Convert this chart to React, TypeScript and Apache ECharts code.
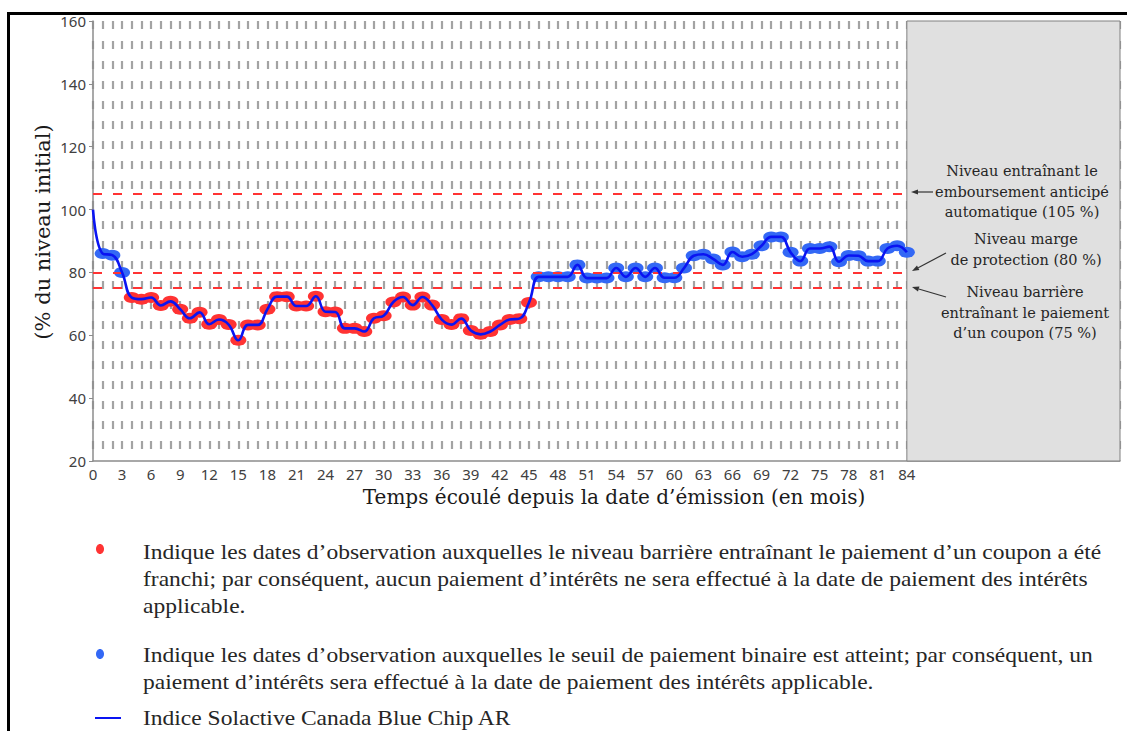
import React, { useEffect, useRef } from 'react';
import * as echarts from 'echarts';

// ---------- data ----------
const months: number[] = [
  0, 1, 2, 3, 4, 5, 6, 7, 8, 9, 10, 11, 12, 13, 14, 15, 16, 17, 18, 19, 20,
  21, 22, 23, 24, 25, 26, 27, 28, 29, 30, 31, 32, 33, 34, 35, 36, 37, 38, 39, 40,
  41, 42, 43, 44, 45, 46, 47, 48, 49, 50, 51, 52, 53, 54, 55, 56, 57, 58, 59, 60,
  61, 62, 63, 64, 65, 66, 67, 68, 69, 70, 71, 72, 73, 74, 75, 76, 77, 78, 79, 80,
  81, 82, 83, 84,
];
const indexLevels: number[] = [
  100, 86, 85.5, 80, 72, 71.5, 72, 69.5, 70.8, 68.3, 65.4, 67.3, 63.5, 65, 63.4, 58.4, 63.3, 63.3, 68.3, 72.3, 72.3,
  69.3, 69.3, 72.4, 67.5, 67.4, 62.2, 62.2, 61.2, 65.4, 66.2, 70.6, 72.2, 69.6, 72.2, 69.6, 65, 63.4, 65.3, 61.5, 60.3,
  61.2, 63.3, 65, 65.3, 70.4, 78.6, 78.6, 78.6, 78.6, 82.4, 78.2, 78.2, 78.2, 81.4, 78.6, 81.4, 78.6, 81.4, 78.3, 78.3,
  81.4, 85.3, 85.8, 84.3, 82.4, 86.5, 85, 85.8, 88.5, 91.3, 91.3, 86.4, 83.6, 87.6, 87.6, 88.2, 83.4, 85.4, 85.3, 83.6,
  83.6, 87.6, 88.5, 86.4,
];
const autocallLevel = 105;
const protectionLevel = 80;
const barrierLevel = 75;
const lastObservationMonth = 84;
const xAxisEnd = 106;
const xTickLabels: number[] = [0, 3, 6, 9, 12, 15, 18, 21, 24, 27, 30, 33, 36, 39, 42, 45, 48, 51, 54, 57, 60, 63, 66, 69, 72, 75, 78, 81, 84];
const yTickLabels: number[] = [20, 40, 60, 80, 100, 120, 140, 160];

const xAxisTitle = 'Temps écoulé depuis la date d’émission (en mois)';
const yAxisTitle = '(% du niveau initial)';
const annotAutocall = ['Niveau entraînant le', 'emboursement anticipé', 'automatique (105 %)'];
const annotProtection = ['Niveau marge', 'de protection (80 %)'];
const annotBarrier = ['Niveau barrière', 'entraînant le paiement', 'd’un coupon (75 %)'];
const legendRed = [
  'Indique les dates d’observation auxquelles le niveau barrière entraînant le paiement d’un coupon a été',
  'franchi; par conséquent, aucun paiement d’intérêts ne sera effectué à la date de paiement des intérêts',
  'applicable.',
];
const legendBlue = [
  'Indique les dates d’observation auxquelles le seuil de paiement binaire est atteint; par conséquent, un',
  'paiement d’intérêts sera effectué à la date de paiement des intérêts applicable.',
];
const legendLine = 'Indice Solactive Canada Blue Chip AR';

// ---------- styles ----------
const RED = '#ff3333';
const BLUE_MARK = '#3368f5';
const BLUE_LINE = '#0a14f2';
const GRID_GRAY = '#a3a3a3';
const AXIS_GRAY = '#8c8c8c';
const TICK_FONT = 'Noto Sans';
const SERIF_ANNOT = '"DejaVu Serif", serif';
const SERIF_TEXT = '"Liberation Serif", serif';

function arrow(x1: number, y1: number, x2: number, y2: number) {
  const dx = x2 - x1;
  const dy = y2 - y1;
  const len = Math.sqrt(dx * dx + dy * dy);
  const ux = dx / len;
  const uy = dy / len;
  const hl = 7;
  const hw = 2.6;
  const bx = x2 - ux * hl;
  const by = y2 - uy * hl;
  return [
    { type: 'line', z: 50, shape: { x1, y1, x2: bx, y2: by }, style: { stroke: '#333', lineWidth: 1.2 } },
    {
      type: 'polygon',
      z: 50,
      shape: { points: [[x2, y2], [bx - uy * hw, by + ux * hw], [bx + uy * hw, by - ux * hw]] },
      style: { fill: '#333' },
    },
  ];
}

function textLines(lines: string[], cx: number, y0: number, step: number, family: string, size: number, align: string) {
  return lines.map((t, i) => ({
    type: 'text',
    z: 50,
    x: cx,
    y: y0 + i * step,
    style: {
      text: t,
      font: `${size}px ${family}`,
      fill: '#262626',
      textAlign: align,
      textVerticalAlign: 'middle',
    },
  }));
}

export default function App() {
  const ref = useRef<HTMLDivElement>(null);

  useEffect(() => {
    if (!ref.current) return;
    const chart = echarts.init(ref.current, null, { renderer: 'svg' });

    const pairs = months.map((m, i) => [m, indexLevels[i]]);
    const observed = pairs.filter((p) => p[0] >= 1);
    const redPts = observed.filter((p) => p[1] < barrierLevel);
    const bluePts = observed.filter((p) => p[1] >= barrierLevel);

    const levelLine = (v: number) => [
      { coord: [0, v] },
      { coord: [lastObservationMonth, v] },
    ];

    const legendGroup = (lines: string[], y0: number) => ({
      type: 'group',
      x: 143,
      y: y0,
      scaleX: 1.12,
      children: textLines(lines, 0, 0, 27, SERIF_TEXT, 21, 'left').map((t: any, i: number) => ({ ...t, x: 0, y: i * 27 })),
    });

    const option: any = {
      animation: false,
      backgroundColor: '#ffffff',
      grid: { left: 93, top: 21, width: 1027, height: 440, containLabel: false },
      xAxis: {
        type: 'value',
        min: 0,
        max: xAxisEnd,
        interval: 3,
        axisLine: { show: true, lineStyle: { color: AXIS_GRAY, width: 1.5 } },
        axisTick: { show: false },
        axisLabel: {
          color: '#404040',
          fontFamily: TICK_FONT,
          fontSize: 15,
          margin: 5,
          formatter: (v: number) => (xTickLabels.indexOf(v) >= 0 ? String(v) : ''),
        },
        splitLine: { show: true, lineStyle: { color: GRID_GRAY, width: 2.2, type: [8, 12] } },
        minorTick: { show: false, splitNumber: 3 },
        minorSplitLine: { show: true, lineStyle: { color: GRID_GRAY, width: 2.2, type: [8, 12] } },
      },
      yAxis: {
        type: 'value',
        min: 20,
        max: 160,
        interval: 20,
        axisLine: { show: true, lineStyle: { color: AXIS_GRAY, width: 1.5 } },
        axisTick: { show: true, length: 4, lineStyle: { color: AXIS_GRAY } },
        axisLabel: {
          color: '#404040',
          fontFamily: TICK_FONT,
          fontSize: 15,
          margin: 7,
          formatter: (v: number) => (yTickLabels.indexOf(v) >= 0 ? String(v) : ''),
        },
        splitLine: { show: false },
      },
      series: [
        {
          type: 'line',
          name: 'area',
          data: [],
          z: 1,
          markArea: {
            silent: true,
            itemStyle: { color: '#e0e0e0', borderColor: '#808080', borderWidth: 1 },
            data: [[{ xAxis: lastObservationMonth, yAxis: 20 }, { xAxis: xAxisEnd, yAxis: 160 }]],
          },
        },
        {
          type: 'line',
          name: 'levels',
          data: [],
          z: 2,
          markLine: {
            silent: true,
            symbol: 'none',
            label: { show: false },
            lineStyle: { color: RED, width: 2, type: [9, 11] },
            data: [levelLine(autocallLevel), levelLine(protectionLevel), levelLine(barrierLevel)],
          },
        },
        {
          type: 'scatter',
          name: 'rouge',
          data: redPts,
          symbol: 'circle',
          symbolSize: [16, 11],
          itemStyle: { color: RED, opacity: 1 },
          z: 3,
        },
        {
          type: 'scatter',
          name: 'bleu',
          data: bluePts,
          symbol: 'circle',
          symbolSize: [16, 11],
          itemStyle: { color: BLUE_MARK, opacity: 1 },
          z: 3,
        },
        {
          type: 'line',
          name: legendLine,
          data: pairs,
          smooth: 0.45,
          showSymbol: false,
          lineStyle: { color: BLUE_LINE, width: 2.6 },
          z: 5,
        },
      ],
      graphic: [
        // document frame
        { type: 'line', shape: { x1: 7, y1: 13.5, x2: 1127, y2: 13.5 }, style: { stroke: '#000', lineWidth: 3 } },
        { type: 'line', shape: { x1: 8.5, y1: 12, x2: 8.5, y2: 731 }, style: { stroke: '#000', lineWidth: 3 } },
        // axis titles
        {
          type: 'text',
          x: 614,
          y: 497,
          style: {
            text: xAxisTitle,
            font: `20px ${SERIF_ANNOT}`,
            fill: '#1a1a1a',
            textAlign: 'center',
            textVerticalAlign: 'middle',
          },
        },
        {
          type: 'text',
          x: 43,
          y: 232,
          rotation: Math.PI / 2,
          style: {
            text: yAxisTitle,
            font: `21px ${SERIF_ANNOT}`,
            fill: '#1a1a1a',
            textAlign: 'center',
            textVerticalAlign: 'middle',
          },
        },
        // annotations
        ...textLines(annotAutocall, 1022, 171, 20.5, SERIF_ANNOT, 14.5, 'center'),
        ...textLines(annotProtection, 1026, 239, 20.5, SERIF_ANNOT, 14.5, 'center'),
        ...textLines(annotBarrier, 1025, 292, 20.5, SERIF_ANNOT, 14.5, 'center'),
        ...arrow(933, 192, 911, 192),
        ...arrow(946, 253, 912, 271),
        ...arrow(946, 297, 912, 287),
        // legend
        { type: 'ellipse', shape: { cx: 100, cy: 549, rx: 4, ry: 5 }, style: { fill: RED } },
        { type: 'ellipse', shape: { cx: 100, cy: 654, rx: 4, ry: 5 }, style: { fill: BLUE_MARK } },
        { type: 'line', shape: { x1: 95, y1: 718, x2: 121, y2: 718 }, style: { stroke: BLUE_LINE, lineWidth: 2 } },
        legendGroup(legendRed, 552),
        legendGroup(legendBlue, 655),
        legendGroup([legendLine], 718),
      ],
    };

    chart.setOption(option);
    return () => chart.dispose();
  }, []);

  return (
    <div
      ref={ref}
      style={{ position: 'absolute', left: 0, top: 0, width: 1127, height: 731, background: '#fff' }}
    />
  );
}
